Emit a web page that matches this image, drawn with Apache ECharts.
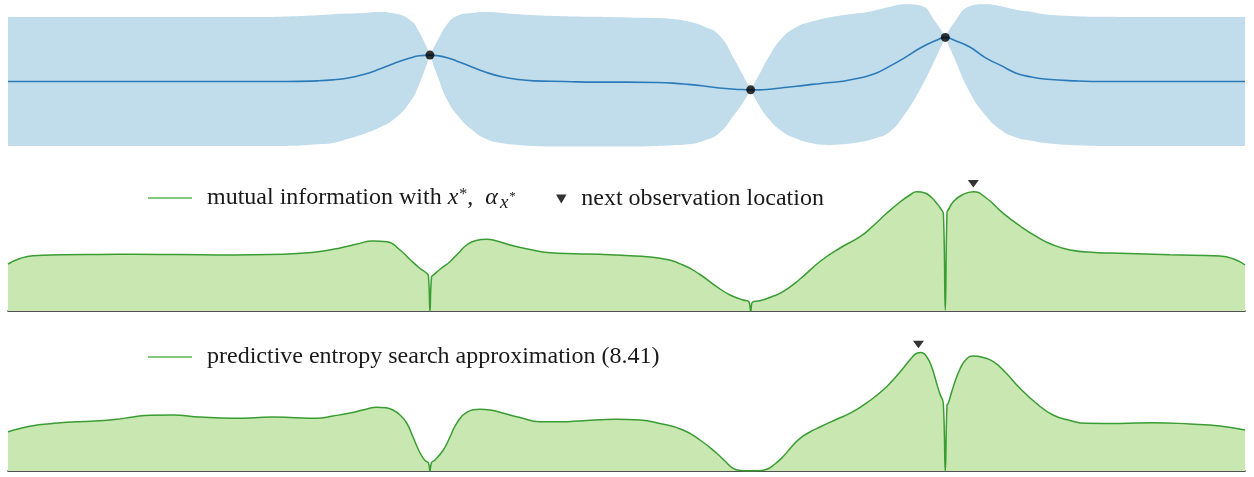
<!DOCTYPE html>
<html><head><meta charset="utf-8">
<script src="https://cdn.jsdelivr.net/npm/echarts@6/dist/echarts.min.js"></script>
<style>html,body{margin:0;padding:0;background:#fff}#c{width:1254px;height:477px}</style>
</head><body><div id="c"></div>
<script>
// ---------- data ----------
// GP posterior (top panel): x grid, posterior mean, upper / lower edge of the credible band
const topX = [0, 5, 10, 15, 20, 22.5, 25, 26.25, 27.5, 28.75, 30, 31.25, 32.5, 33.25, 34.11, 34.75, 35.5, 36.25, 37.5, 38.75, 40, 41.25, 42.5, 45, 47.5, 50, 52.5, 53.75, 55, 56.25, 57.5, 58.75, 59.4, 60.04, 60.75, 61.5, 62.5, 63.75, 65, 66.25, 67.5, 68.75, 70, 71.25, 72.5, 73.75, 75, 75.77, 76.5, 77.75, 79, 80.25, 81.5, 82.75, 84, 86.25, 88.75, 92.5, 96, 100];
const postMean = [0, 0, 0, 0, 0, 0, 0.02, 0.05, 0.11, 0.22, 0.38, 0.57, 0.73, 0.80, 0.82, 0.80, 0.74, 0.64, 0.45, 0.27, 0.14, 0.06, 0.02, 0, -0.02, -0.02, -0.03, -0.05, -0.09, -0.14, -0.20, -0.24, -0.25, -0.26, -0.26, -0.24, -0.20, -0.15, -0.09, -0.04, 0.01, 0.10, 0.23, 0.47, 0.74, 1.04, 1.27, 1.37, 1.28, 1.07, 0.74, 0.50, 0.26, 0.14, 0.07, 0.02, 0, 0, 0, 0];
const bandUpper = [2.00, 2.00, 2.00, 2.00, 2.00, 2.02, 2.06, 2.09, 2.11, 2.13, 2.16, 2.11, 1.91, 1.53, 0.82, 1.29, 1.78, 2.03, 2.13, 2.16, 2.13, 2.09, 2.06, 2.03, 2.01, 1.99, 1.97, 1.94, 1.86, 1.71, 1.44, 0.67, 0.20, -0.26, 0.23, 0.76, 1.32, 1.69, 1.86, 1.98, 2.06, 2.12, 2.20, 2.31, 2.40, 2.36, 1.84, 1.37, 1.84, 2.34, 2.40, 2.34, 2.23, 2.16, 2.08, 2.03, 2.01, 2.00, 2.00, 2.00];
const bandLower = [-2.00, -2.00, -2.00, -2.00, -2.00, -2.00, -1.95, -1.91, -1.78, -1.63, -1.44, -1.16, -0.64, -0.08, 0.82, 0.14, -0.57, -1.01, -1.50, -1.80, -1.92, -1.97, -2.00, -2.02, -2.02, -2.02, -2.00, -1.98, -1.95, -1.84, -1.60, -1.01, -0.67, -0.26, -0.76, -1.16, -1.53, -1.78, -1.92, -1.97, -1.95, -1.89, -1.78, -1.57, -1.01, -0.23, 0.73, 1.37, 0.73, -0.33, -1.04, -1.50, -1.74, -1.84, -1.92, -1.98, -2.00, -2.00, -2.00, -2.00];
const obsX = [34.11, 60.04, 75.77];
const obsY = [0.82, -0.26, 1.37];

// mutual information with x* (middle panel)
const miX = [0, 0.97, 2.02, 4.20, 7.44, 10.11, 13.90, 18.19, 21.18, 23.61, 25.22, 26.84, 28.21, 29.51, 30.64, 31.69, 32.50, 33.31, 33.83, 33.99, 34.11, 34.24, 34.40, 35.00, 35.73, 36.38, 37.08, 37.83, 38.70, 39.53, 40.58, 42.20, 43.82, 45.84, 47.86, 50.28, 52.71, 54.57, 55.94, 57.29, 58.37, 59.42, 59.90, 60.04, 60.19, 60.79, 61.68, 62.65, 64.03, 65.64, 67.26, 68.88, 69.93, 71.03, 72.11, 72.91, 73.46, 74.13, 74.70, 75.07, 75.42, 75.62, 75.77, 75.91, 76.01, 76.42, 77.12, 78.04, 78.98, 80.46, 81.81, 83.16, 84.40, 85.85, 87.87, 89.89, 93.94, 97.98, 99.19, 100];
const miVal = [0.47, 0.525, 0.553, 0.562, 0.566, 0.567, 0.564, 0.56, 0.564, 0.577, 0.595, 0.63, 0.67, 0.70, 0.693, 0.61, 0.515, 0.425, 0.38, 0.35, 0, 0.34, 0.36, 0.425, 0.493, 0.575, 0.66, 0.705, 0.717, 0.70, 0.66, 0.615, 0.583, 0.572, 0.567, 0.552, 0.527, 0.46, 0.365, 0.243, 0.16, 0.11, 0.09, 0, 0.09, 0.103, 0.14, 0.193, 0.32, 0.495, 0.63, 0.743, 0.85, 0.977, 1.09, 1.16, 1.193, 1.18, 1.13, 1.077, 1.02, 0.97, 0.01, 0.99, 1.01, 1.093, 1.16, 1.193, 1.14, 0.977, 0.85, 0.743, 0.665, 0.61, 0.585, 0.577, 0.562, 0.55, 0.515, 0.46];
const miNextX = [78.04];
const miNextY = [1.193];

// predictive entropy search approximation (bottom panel)
const pesX = [0, 0.97, 2.02, 3.40, 4.75, 6.06, 7.44, 8.79, 10.11, 11.48, 13.34, 15.52, 18.19, 19.97, 21.42, 23.20, 24.96, 26.27, 27.65, 28.86, 29.81, 30.56, 31.12, 31.69, 32.23, 32.74, 33.31, 33.71, 33.99, 34.11, 34.24, 34.52, 35.19, 35.73, 36.27, 37.08, 38.16, 38.97, 39.77, 41.39, 43.01, 44.62, 46.48, 47.86, 49.21, 51.09, 52.71, 54.57, 55.94, 57.29, 57.96, 58.61, 59.26, 59.98, 60.63, 61.33, 62.00, 62.65, 63.30, 64.03, 64.83, 65.64, 66.94, 68.31, 69.68, 71.03, 72.11, 72.91, 73.46, 73.81, 74.27, 74.70, 75.07, 75.34, 75.61, 75.77, 75.91, 76.01, 76.42, 76.96, 77.45, 78.04, 78.82, 79.66, 80.68, 81.81, 83.10, 84.48, 85.85, 87.20, 89.89, 92.56, 95.55, 97.98, 100];
const pesVal = [0.393, 0.425, 0.453, 0.472, 0.487, 0.495, 0.503, 0.517, 0.54, 0.558, 0.56, 0.54, 0.528, 0.532, 0.54, 0.532, 0.527, 0.55, 0.58, 0.615, 0.637, 0.632, 0.61, 0.56, 0.48, 0.34, 0.18, 0.105, 0.08, 0, 0.085, 0.11, 0.21, 0.34, 0.477, 0.587, 0.617, 0.61, 0.587, 0.535, 0.493, 0.492, 0.503, 0.512, 0.517, 0.51, 0.475, 0.41, 0.31, 0.177, 0.10, 0.027, 0.005, 0, 0.002, 0.017, 0.07, 0.143, 0.235, 0.327, 0.39, 0.44, 0.515, 0.593, 0.705, 0.843, 0.99, 1.11, 1.177, 1.185, 1.143, 1.03, 0.877, 0.77, 0.677, 0, 0.66, 0.677, 0.843, 1.02, 1.115, 1.15, 1.135, 1.093, 0.98, 0.827, 0.68, 0.56, 0.505, 0.477, 0.475, 0.483, 0.47, 0.45, 0.41];
const pesNextX = [73.6];
const pesNextY = [1.185];

const seriesNames = ['mutual information with x*', 'next observation location', 'predictive entropy search approximation (8.41)'];

// ---------- chart ----------
const FONT = 'Liberation Serif';
const zip = (xs, ys) => xs.map((x, i) => [x, ys[i]]);
// the band collapses onto each observation: break the smoothed edge there
function bandEdge(ys) {
  const out = [];
  topX.forEach((x, i) => {
    out.push([x, ys[i]]);
    if (obsX.indexOf(x) >= 0) { out.push([x, '-']); out.push([x, ys[i]]); }
  });
  return out;
}

const BLUE_FILL = '#c1dcea', BLUE_LINE = '#2b7bba';
const GREEN_FILL = '#c9e7b1', GREEN_LINE = '#3a9d34', GREEN_LEG = '#58b54f';
const TRI = 'path://M0,0L10,0L5,8.5Z';
const SMOOTH = 0.5;

const grids = [
  { left: 8, right: 9, top: 1, height: 161 },
  { left: 8, right: 9, top: 161, height: 150 },
  { left: 8, right: 9, top: 321, height: 150 }
];
const xAxes = grids.map((g, i) => ({
  type: 'value', gridIndex: i, min: 0, max: 100,
  axisLine: { show: i > 0, onZero: false, lineStyle: { color: '#1a1a1a', width: 1.5 } },
  axisTick: { show: false }, axisLabel: { show: false }, splitLine: { show: false }
}));
const yAxes = [
  { type: 'value', gridIndex: 0, min: -2.5, max: 2.5, show: false },
  { type: 'value', gridIndex: 1, min: 0, max: 1.5, show: false },
  { type: 'value', gridIndex: 2, min: 0, max: 1.5, show: false }
];

const richBase = {
  t: { fontFamily: FONT, fontSize: 24, lineHeight: 32, color: '#1a1a1a' },
  i: { fontFamily: FONT, fontSize: 24, lineHeight: 32, fontStyle: 'italic', color: '#1a1a1a' },
  sup: { fontFamily: FONT, fontSize: 16, lineHeight: 16, verticalAlign: 'top', padding: [5, 0, 0, 1], color: '#1a1a1a' },
  sub: { fontFamily: FONT, fontSize: 19, lineHeight: 19, fontStyle: 'italic', verticalAlign: 'bottom', padding: [0, 0, 2, 2], color: '#1a1a1a' },
  subsup: { fontFamily: FONT, fontSize: 13, lineHeight: 13, verticalAlign: 'middle', padding: [0, 0, 2, 1], color: '#1a1a1a' }
};
function legendFmt(name) {
  if (name === seriesNames[0]) return '{t|mutual information with }{i|x}{sup|*}{t|,  }{i|α}{sub|x}{subsup|*}';
  return '{t|' + name + '}';
}
const lineLegend = (name, top) => ({
  data: [{ name: name, icon: 'rect', itemStyle: { color: GREEN_LEG } }],
  left: 148, top: top, padding: 0, itemWidth: 44, itemHeight: 1.5, selectedMode: false,
  formatter: legendFmt, textStyle: { rich: richBase, padding: [0, 0, 0, 10] }
});

const option = {
  backgroundColor: '#fff',
  animation: false,
  grid: grids,
  xAxis: xAxes,
  yAxis: yAxes,
  legend: [
    lineLegend(seriesNames[0], 182),
    { data: [seriesNames[1]], left: 556, top: 187, padding: 0, itemWidth: 30, itemHeight: 9, selectedMode: false, formatter: legendFmt, textStyle: { rich: richBase } },
    lineLegend(seriesNames[2], 345)
  ],
  series: [
    { type: 'line', name: 'band upper', xAxisIndex: 0, yAxisIndex: 0, data: bandEdge(bandUpper), symbol: 'none', smooth: SMOOTH, connectNulls: false, lineStyle: { width: 0, opacity: 0 }, areaStyle: { color: BLUE_FILL, opacity: 1, origin: 'start' }, silent: true, z: 1 },
    { type: 'line', name: 'band lower', xAxisIndex: 0, yAxisIndex: 0, data: bandEdge(bandLower), symbol: 'none', smooth: SMOOTH, connectNulls: false, lineStyle: { width: 0, opacity: 0 }, areaStyle: { color: '#ffffff', opacity: 1, origin: 'start' }, silent: true, z: 1 },
    { type: 'line', name: 'posterior mean', xAxisIndex: 0, yAxisIndex: 0, data: zip(topX, postMean), symbol: 'none', smooth: SMOOTH, lineStyle: { color: BLUE_LINE, width: 1.6 }, z: 3 },
    { type: 'scatter', name: 'observations', xAxisIndex: 0, yAxisIndex: 0, data: zip(obsX, obsY), symbol: 'circle', symbolSize: 9, itemStyle: { color: '#000' }, z: 4 },

    { type: 'line', name: seriesNames[0], xAxisIndex: 1, yAxisIndex: 1, data: zip(miX, miVal), symbol: 'none', smooth: SMOOTH, lineStyle: { color: GREEN_LINE, width: 1.5 }, areaStyle: { color: GREEN_FILL, opacity: 1 }, itemStyle: { color: GREEN_LINE }, z: 2 },
    { type: 'scatter', name: seriesNames[1], xAxisIndex: 1, yAxisIndex: 1, data: zip(miNextX, miNextY), symbol: TRI, symbolSize: [11, 9], symbolKeepAspect: true, symbolOffset: [0, -8], itemStyle: { color: '#000' }, z: 4 },

    { type: 'line', name: seriesNames[2], xAxisIndex: 2, yAxisIndex: 2, data: zip(pesX, pesVal), symbol: 'none', smooth: SMOOTH, lineStyle: { color: GREEN_LINE, width: 1.5 }, areaStyle: { color: GREEN_FILL, opacity: 1 }, itemStyle: { color: GREEN_LINE }, z: 2 },
    { type: 'scatter', name: 'pes next observation', xAxisIndex: 2, yAxisIndex: 2, data: zip(pesNextX, pesNextY), symbol: TRI, symbolSize: [11, 9], symbolKeepAspect: true, symbolOffset: [0, -8], itemStyle: { color: '#000' }, z: 4 }
  ]
};
const chart = echarts.init(document.getElementById('c'), null, { renderer: 'canvas' });
chart.setOption(option);
</script>
</body></html>
